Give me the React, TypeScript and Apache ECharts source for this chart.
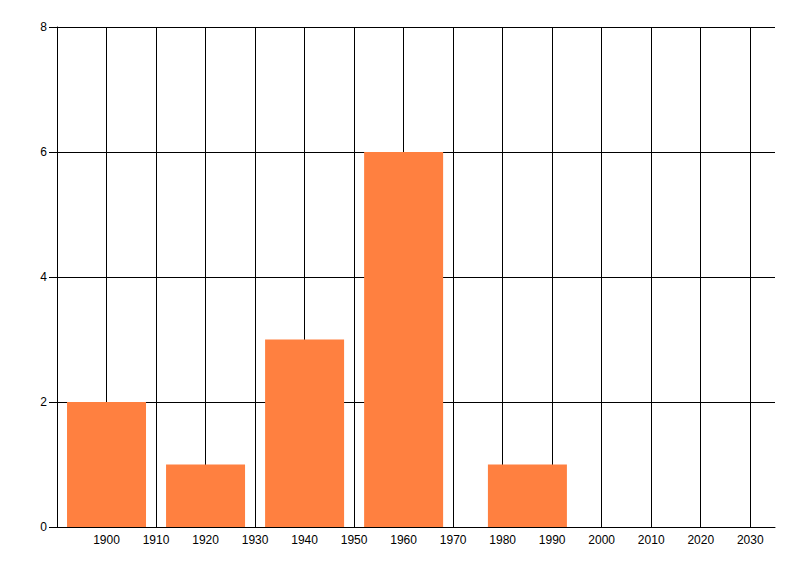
import React, { useEffect, useRef } from "react";
import * as echarts from "echarts";

const years: number[] = [1900, 1920, 1940, 1960, 1985];
const counts: number[] = [2, 1, 3, 6, 1];
const xMin = 1890;
const xMax = 2035;
const xInterval = 10;
const yMin = 0;
const yMax = 8;
const yInterval = 2;

export default function App() {
  const ref = useRef<HTMLDivElement>(null);
  useEffect(() => {
    if (!ref.current) return;
    const chart = echarts.init(ref.current, undefined, { renderer: "svg" });
    const font = "'Liberation Sans', Arial, sans-serif";
    chart.setOption({
      animation: false,
      backgroundColor: "#ffffff",
      grid: { left: 57, right: 25, top: 27, bottom: 49, containLabel: false },
      xAxis: {
        type: "value",
        min: xMin,
        max: xMax,
        interval: xInterval,
        axisLine: { show: true, onZero: false, lineStyle: { color: "#000", width: 1 } },
        axisTick: { show: false },
        axisLabel: {
          show: true,
          showMinLabel: false,
          showMaxLabel: false,
          color: "#000",
          fontSize: 12,
          fontFamily: font,
          margin: 7,
          formatter: (v: number) => String(v),
        },
        splitLine: {
          show: true,
          showMinLine: false,
          showMaxLine: false,
          lineStyle: { color: "#000", width: 1 },
        },
      },
      yAxis: {
        type: "value",
        min: yMin,
        max: yMax,
        interval: yInterval,
        axisLine: { show: true, lineStyle: { color: "#000", width: 1 } },
        axisTick: { show: true, length: 8, lineStyle: { color: "#000" } },
        axisLabel: {
          color: "#000",
          fontSize: 12,
          fontFamily: font,
          margin: 10,
          formatter: (v: number) => String(v),
        },
        splitLine: { show: true, lineStyle: { color: "#000", width: 1 } },
      },
      series: [
        {
          type: "bar",
          data: years.map((y, i) => [y, counts[i]]),
          barWidth: 79,
          itemStyle: { color: "#FF8040" },
          z: 3,
        },
      ],
    });
    return () => chart.dispose();
  }, []);
  return (
    <div
      ref={ref}
      style={{ position: "fixed", left: 0, top: 0, width: 800, height: 576, background: "#fff" }}
    />
  );
}
